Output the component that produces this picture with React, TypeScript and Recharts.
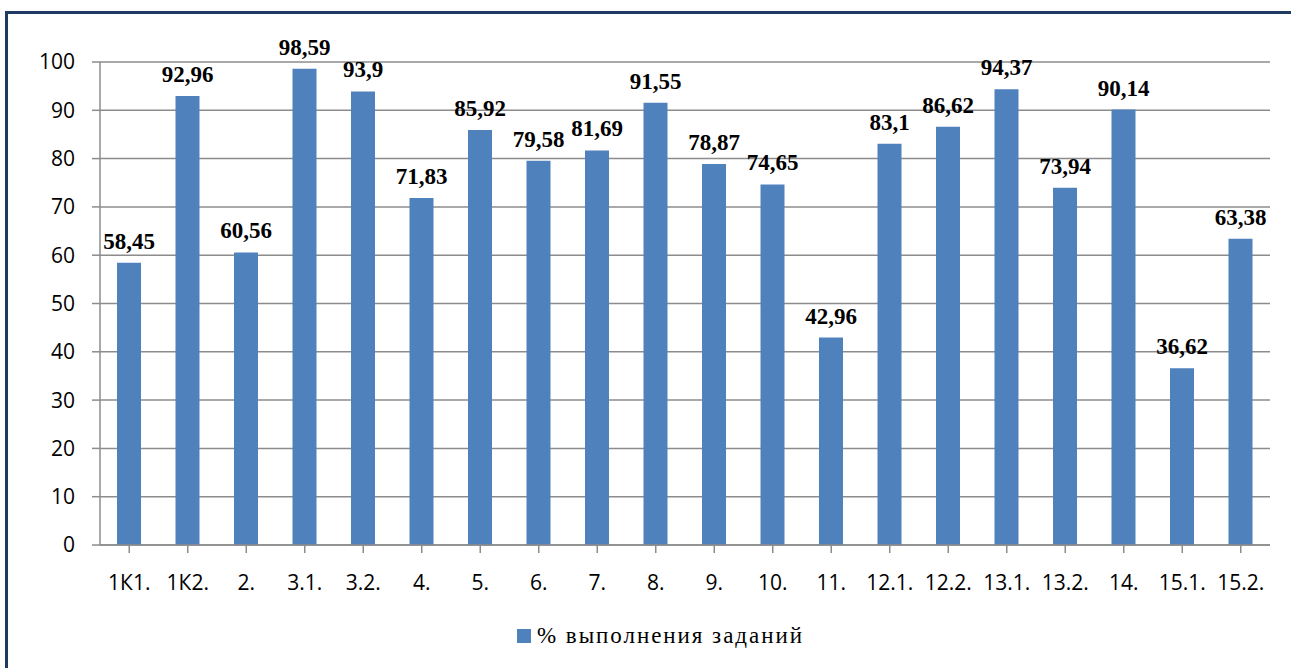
import React from "react";
import {
  BarChart,
  Bar,
  XAxis,
  YAxis,
  CartesianGrid,
  LabelList,
} from "recharts";

const categories = [
  "1К1.", "1К2.", "2.", "3.1.", "3.2.", "4.", "5.", "6.", "7.", "8.",
  "9.", "10.", "11.", "12.1.", "12.2.", "13.1.", "13.2.", "14.", "15.1.", "15.2.",
];
const values = [
  58.45, 92.96, 60.56, 98.59, 93.9, 71.83, 85.92, 79.58, 81.69, 91.55,
  78.87, 74.65, 42.96, 83.1, 86.62, 94.37, 73.94, 90.14, 36.62, 63.38,
];
const yTicks = [0, 10, 20, 30, 40, 50, 60, 70, 80, 90, 100];
const seriesName = "% выполнения заданий";

const data = categories.map((c, i) => ({ name: c, value: values[i] }));

const fmt = (v: number) => String(v).replace(".", ",");

const serif = "Liberation Serif, DejaVu Serif, serif";
const sans = "Open Sans, Liberation Sans, sans-serif";

export default function App() {
  return (
    <div
      style={{
        position: "fixed",
        left: 0,
        top: 0,
        width: 1291,
        height: 668,
        background: "#fff",
        overflow: "hidden",
      }}
    >
      <div
        style={{
          position: "absolute",
          left: 5,
          top: 11,
          width: 1320,
          height: 720,
          border: "3px solid #1F3B63",
          boxSizing: "border-box",
        }}
      />
      <div style={{ position: "absolute", left: 0, top: 0 }}>
        <BarChart
          width={1291}
          height={668}
          data={data}
          margin={{ top: 62, right: 21, left: 0, bottom: 63 }}
          barSize={24}
        >
          <CartesianGrid vertical={false} stroke="#8C8C8C" strokeWidth={1.5} />
          <XAxis
            dataKey="name"
            interval={0}
            height={60}
            tickSize={8}
            tickMargin={22}
            stroke="#8C8C8C"
            strokeWidth={1.5}
            tick={{ fill: "#000", fontSize: 21, fontFamily: sans }}
          />
          <YAxis
            domain={[0, 100]}
            ticks={yTicks}
            interval={0}
            width={100}
            tickSize={8}
            tickMargin={17}
            stroke="#8C8C8C"
            strokeWidth={1.5}
            tick={{ fill: "#000", fontSize: 21, fontFamily: sans }}
          />
          <Bar dataKey="value" name={seriesName} fill="#4F81BD" isAnimationActive={false}>
            <LabelList
              dataKey="value"
              position="top"
              offset={14}
              formatter={(v: any) => fmt(Number(v))}
              fill="#000"
              fontSize={23}
              fontWeight="bold"
              fontFamily={serif}
            />
          </Bar>
          {/* legend drawn in svg so the serif font matches the labels */}
          <g>
            <rect x={517} y={629} width={14} height={14} fill="#4F81BD" />
            <text
              x={537}
              y={643}
              fill="#000"
              fontSize={23}
              fontFamily={serif}
              textLength={265}
              lengthAdjust="spacing"
            >
              {seriesName}
            </text>
          </g>
        </BarChart>
      </div>
    </div>
  );
}
